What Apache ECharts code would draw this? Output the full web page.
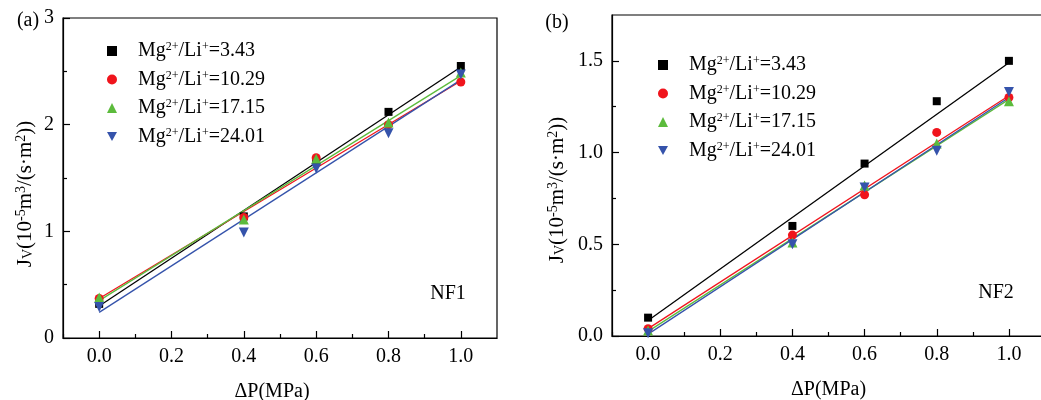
<!DOCTYPE html>
<html>
<head>
<meta charset="utf-8">
<script src="https://cdn.jsdelivr.net/npm/echarts@6/dist/echarts.min.js"></script>
<style>
html,body{margin:0;padding:0;background:#fff}
#chart{width:1041px;height:400px}
</style>
</head>
<body>
<div id="chart"></div>
<script>
// x values (MPa)
var pressure = [0, 0.4, 0.6, 0.8, 1.0];
// Mg2+/Li+ ratios
var ratios = ['3.43', '10.29', '17.15', '24.01'];

// NF1 flux, one array per ratio
var nf1_343 = [0.32, 1.14, 1.65, 2.12, 2.55];
var nf1_1029 = [0.37, 1.13, 1.69, 2.00, 2.40];
var nf1_1715 = [0.38, 1.11, 1.68, 2.02, 2.49];
var nf1_2401 = [0.29, 0.99, 1.59, 1.92, 2.47];
// fitted line values at x=0 and x=1
var nf1Fit = [[0.30, 2.54], [0.37, 2.41], [0.35, 2.46], [0.24, 2.42]];

// NF2 flux
var nf2_343 = [0.10, 0.60, 0.94, 1.28, 1.50];
var nf2_1029 = [0.04, 0.55, 0.77, 1.11, 1.30];
var nf2_1715 = [0.03, 0.51, 0.82, 1.05, 1.28];
var nf2_2401 = [0.015, 0.50, 0.81, 1.01, 1.33];
var nf2Fit = [[0.085, 1.49], [0.04, 1.31], [0.025, 1.29], [0.01, 1.30]];

// tick positions
var xMajor = [0, 0.2, 0.4, 0.6, 0.8, 1.0];
var xMinor = [-0.1, 0.1, 0.3, 0.5, 0.7, 0.9];
var y1Major = [0, 1, 2, 3];
var y1Minor = [0.5, 1.5, 2.5];
var y2Major = [0, 0.5, 1.0, 1.5];
var y2Minor = [0.25, 0.75, 1.25];

var FONT = "'Liberation Serif', 'Times New Roman', serif";
var colors = ['#000000', '#f0141c', '#5cbb3c', '#3553ab'];
var symbols = ['rect', 'circle', 'triangle', 'path://M0,0 L10,0 L5,9 Z'];
var sizes = [8, 9, 10, 10];

var dom = document.getElementById('chart');
var myChart = echarts.init(dom, null, {renderer: 'canvas'});

function pairs(vals) {
    return pressure.map(function (x, i) { return [x, vals[i]]; });
}

function mainX(grid) {
    return {
        gridIndex: grid, type: 'value', min: -0.1, max: 1.1, position: 'bottom',
        axisLine: {show: true, onZero: false, lineStyle: {color: '#000', width: 1.2}},
        axisTick: {show: true, inside: true, length: 7, customValues: xMajor, lineStyle: {color: '#000', width: 1.2}},
        axisLabel: {customValues: xMajor, formatter: function (v) { return v.toFixed(1); }, margin: 9, color: '#000', fontSize: 20, fontFamily: FONT},
        splitLine: {show: false},
        name: 'ΔP(MPa)', nameLocation: 'middle', nameGap: 44,
        nameTextStyle: {color: '#000', fontSize: 20, fontFamily: FONT, padding: grid === 0 ? [0, 16, 0, 0] : 0}
    };
}
function minorX(grid) {
    return {
        gridIndex: grid, type: 'value', min: -0.1, max: 1.1, position: 'bottom',
        axisLine: {show: false, onZero: false},
        axisTick: {show: true, inside: true, length: 4, customValues: xMinor, lineStyle: {color: '#000', width: 1.2}},
        axisLabel: {show: false}, splitLine: {show: false}
    };
}
function mainY(grid, max, major, fmt) {
    return {
        gridIndex: grid, type: 'value', min: 0, max: max, position: 'left',
        axisLine: {show: true, onZero: false, lineStyle: {color: '#000', width: 1.2}},
        axisTick: {show: true, inside: true, length: 7, customValues: major, lineStyle: {color: '#000', width: 1.2}},
        axisLabel: {customValues: major, formatter: fmt, margin: 9, color: '#000', fontSize: 20, fontFamily: FONT},
        splitLine: {show: false}
    };
}
function minorY(grid, max, minor) {
    return {
        gridIndex: grid, type: 'value', min: 0, max: max, position: 'left',
        axisLine: {show: false, onZero: false},
        axisTick: {show: true, inside: true, length: 4, customValues: minor, lineStyle: {color: '#000', width: 1.2}},
        axisLabel: {show: false}, splitLine: {show: false}
    };
}

var series = [];
function addPanel(xi, yi, data, fits) {
    fits.forEach(function (f, i) {
        series.push({
            type: 'line', xAxisIndex: xi, yAxisIndex: yi,
            data: [[0, f[0]], [1, f[1]]],
            showSymbol: false, symbol: 'none', silent: true,
            lineStyle: {color: colors[i], width: 1.3},
            z: 2
        });
    });
    data.forEach(function (vals, i) {
        series.push({
            name: ratios[i], type: 'scatter', xAxisIndex: xi, yAxisIndex: yi,
            data: pairs(vals), symbol: symbols[i], symbolSize: sizes[i],
            itemStyle: {color: colors[i], opacity: 1}, z: 3
        });
    });
}
addPanel(0, 0, [nf1_343, nf1_1029, nf1_1715, nf1_2401], nf1Fit);
addPanel(2, 2, [nf2_343, nf2_1029, nf2_1715, nf2_2401], nf2Fit);

function legendAt(left, top, gap) {
    return {
        left: left, top: top, orient: 'vertical', data: ratios,
        itemWidth: 10, itemHeight: 10, itemGap: gap, selectedMode: false,
        formatter: function (name) { return 'Mg{sup|2+}/Li{sup|+}=' + name; },
        textStyle: {
            color: '#000', fontSize: 20, fontFamily: FONT, lineHeight: 20, padding: [0, 0, 0, 16],
            rich: {sup: {fontSize: 12, fontFamily: FONT, color: '#000', verticalAlign: 'top', lineHeight: 12}}
        }
    };
}

var yName = 'J{sub|V}(10{sup|-5}m{sup|3}/(s·m{sup|2}))';
var nameRich = {
    sub: {fontSize: 14, fontFamily: FONT, fill: '#000', verticalAlign: 'bottom', lineHeight: 14},
    sup: {fontSize: 14, fontFamily: FONT, fill: '#000', verticalAlign: 'top', lineHeight: 14}
};
function label(x, y, text, rot, rich, size) {
    return {
        type: 'text', x: x, y: y, rotation: rot || 0, z: 10,
        style: {
            text: text, fill: '#000', fontSize: size || 20, fontFamily: FONT,
            align: 'center', verticalAlign: 'middle', textAlign: 'center', textVerticalAlign: 'middle',
            rich: rich
        }
    };
}

this.option = {
    backgroundColor: '#fff',
    animation: false,
    grid: [
        {left: 63, top: 18, width: 434, height: 320, show: true, borderColor: '#000', borderWidth: 1.2, containLabel: false, outerBoundsMode: 'none'},
        {left: 612, top: 15, width: 433, height: 321, show: true, borderColor: '#000', borderWidth: 1.2, containLabel: false, outerBoundsMode: 'none'}
    ],
    xAxis: [mainX(0), minorX(0), mainX(1), minorX(1)],
    yAxis: [
        mainY(0, 3, y1Major, function (v) { return String(v); }),
        minorY(0, 3, y1Minor),
        mainY(1, 1.75, y2Major, function (v) { return v.toFixed(1); }),
        minorY(1, 1.75, y2Minor)
    ],
    legend: [legendAt(102, 36, 8.5), legendAt(653, 50, 8.5)],
    graphic: [
        label(28, 21, '(a)'),
        label(557, 23, '(b)'),
        label(448, 294, 'NF1'),
        label(996, 293, 'NF2'),
        label(25, 194, yName, Math.PI / 2, nameRich, 21),
        label(557, 190, yName, Math.PI / 2, nameRich, 21)
    ],
    series: series
};

myChart.setOption(this.option, true);
</script>
</body>
</html>
